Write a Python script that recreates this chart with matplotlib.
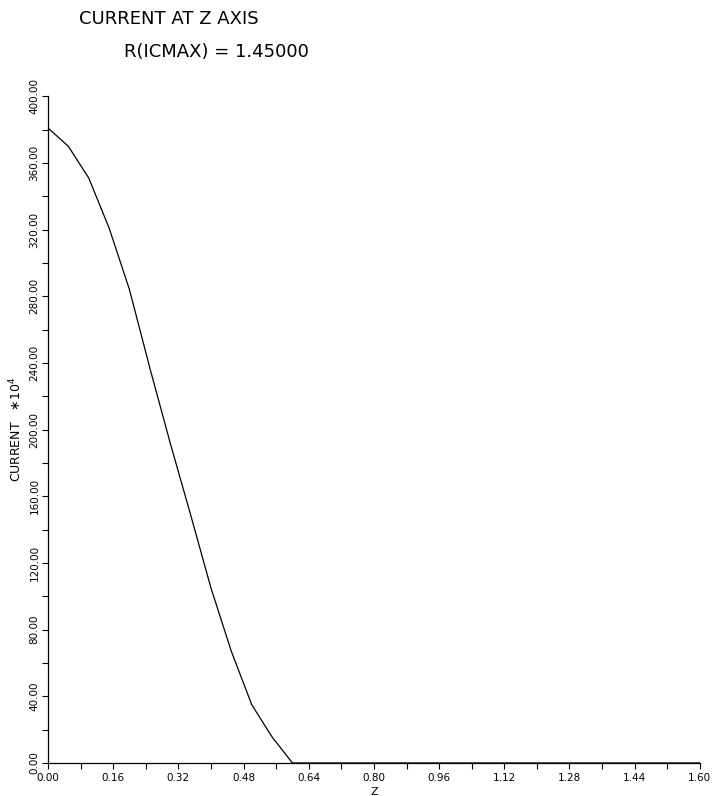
import matplotlib
matplotlib.use('Agg')
import matplotlib.pyplot as plt
from matplotlib.ticker import MultipleLocator, FormatStrFormatter

# current on the z axis (units of 1e4)
z = [0.00, 0.05, 0.10, 0.15, 0.20, 0.25, 0.30, 0.35, 0.40, 0.45, 0.50, 0.55, 0.60,
     0.80, 1.00, 1.20, 1.40, 1.60]
current = [381, 370, 351, 321, 284, 237, 192, 149, 105, 67, 35, 15.6, 0,
           0, 0, 0, 0, 0]

title1 = 'CURRENT AT Z AXIS'
title2 = 'R(ICMAX) = 1.45000'

plt.rcParams['font.family'] = ['DejaVu Sans']

fig = plt.figure(figsize=(7.14, 7.96), dpi=100)
ax = fig.add_axes([0.0672, 0.0415, 0.913, 0.8375])

ax.plot(z, current, color='black', lw=0.9)

ax.set_xlim(0, 1.60)
ax.set_ylim(0, 400)
ax.xaxis.set_major_locator(MultipleLocator(0.16))
ax.xaxis.set_minor_locator(MultipleLocator(0.08))
ax.yaxis.set_major_locator(MultipleLocator(40))
ax.yaxis.set_minor_locator(MultipleLocator(20))
ax.xaxis.set_major_formatter(FormatStrFormatter('%.2f'))
ax.yaxis.set_major_formatter(FormatStrFormatter('%.2f'))

for s in ['top', 'right']:
    ax.spines[s].set_visible(False)
for s in ['left', 'bottom']:
    ax.spines[s].set_linewidth(0.9)

ax.tick_params(which='both', direction='out', length=4, width=0.8, labelsize=7.5)
ax.tick_params(axis='x', pad=3)
ax.tick_params(axis='y', pad=2)
for lab in ax.get_yticklabels():
    lab.set_rotation(90)
    lab.set_va('center')

ax.set_xlabel('Z', fontsize=8, labelpad=3)
ax.set_ylabel('CURRENT   $\\ast$10$^{4}$', fontsize=9, labelpad=4)

fig.text(169 / 714, 1 - 19 / 796, title1, ha='center', va='center', fontsize=13,
         color='black')
fig.text(216 / 714, 1 - 52 / 796, title2, ha='center', va='center', fontsize=13,
         color='black')

fig.savefig('out.png', dpi=100)
